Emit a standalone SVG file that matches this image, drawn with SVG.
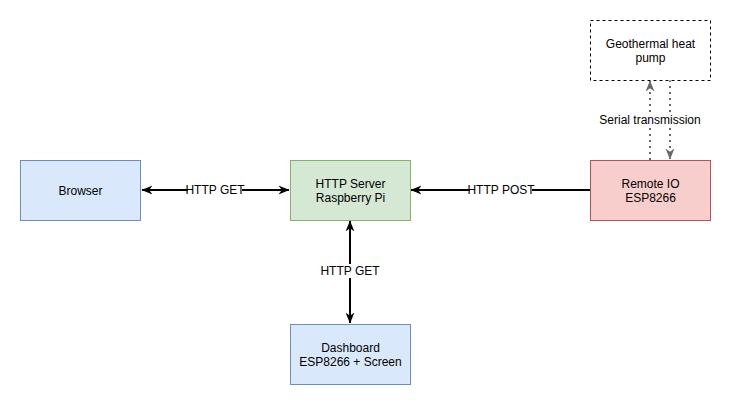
<svg xmlns="http://www.w3.org/2000/svg" width="732" height="405" viewBox="0 0 732 405">
<style>
text{font-family:"Liberation Sans",Arial,sans-serif;font-size:12px;fill:#000;text-anchor:middle}
.blue{fill:#dae8fc;stroke:#6c8ebf;stroke-width:1}
.green{fill:#d5e8d4;stroke:#82b366;stroke-width:1}
.red{fill:#f8cecc;stroke:#b85450;stroke-width:1}
.dash{fill:#fff;stroke:#000;stroke-width:1;stroke-dasharray:3 3}
.conn{fill:none;stroke:#000;stroke-width:2}
.dot{fill:none;stroke:#666;stroke-width:2;stroke-dasharray:2 4}
.lbl{fill:#fff}
</style>
<defs>
<marker id="ah" viewBox="0 0 10 10" refX="9.5" refY="5" markerWidth="5.5" markerHeight="5.5" orient="auto-start-reverse" markerUnits="strokeWidth">
<path d="M0,1 L10,5 L0,9 L3,5 Z" fill="#000"/>
</marker>
<marker id="ahg" viewBox="0 0 10 10" refX="9.5" refY="5" markerWidth="5.5" markerHeight="5.5" orient="auto" markerUnits="strokeWidth">
<path d="M0,1 L10,5 L0,9 L3,5 Z" fill="#666"/>
</marker>
</defs>
<rect width="732" height="405" fill="#fff"/>
<g id="connectors">
<line class="conn" x1="142" y1="190" x2="289" y2="190" marker-start="url(#ah)" marker-end="url(#ah)"/>
<rect class="lbl" x="188" y="183" width="54" height="14"/>
<text x="215" y="194">HTTP GET</text>
<line class="conn" x1="590" y1="190" x2="411" y2="190" marker-end="url(#ah)"/>
<rect class="lbl" x="470" y="183" width="62" height="14"/>
<text x="501" y="194">HTTP POST</text>
<line class="conn" x1="350" y1="221" x2="350" y2="323" marker-start="url(#ah)" marker-end="url(#ah)"/>
<rect class="lbl" x="322" y="264" width="56" height="14"/>
<text x="350" y="275">HTTP GET</text>
<line class="dot" x1="650" y1="160" x2="650" y2="81" marker-end="url(#ahg)"/>
<line class="dot" x1="670" y1="80" x2="670" y2="159" marker-end="url(#ahg)"/>
<rect class="lbl" x="598" y="112" width="106" height="16"/>
<text x="650" y="124">Serial transmission</text>
</g>
<g id="browser">
<rect class="blue" x="20.5" y="160.5" width="120" height="60"/>
<text x="80.5" y="195">Browser</text>
</g>
<g id="server">
<rect class="green" x="290.5" y="160.5" width="120" height="60"/>
<text x="350.5" y="188">HTTP Server</text>
<text x="350.5" y="202">Raspberry Pi</text>
</g>
<g id="remote">
<rect class="red" x="590.5" y="160.5" width="120" height="60"/>
<text x="650.5" y="188">Remote IO</text>
<text x="650.5" y="202">ESP8266</text>
</g>
<g id="dashboard">
<rect class="blue" x="290.5" y="324.5" width="120" height="60"/>
<text x="350.5" y="352">Dashboard</text>
<text x="350.5" y="366">ESP8266 + Screen</text>
</g>
<g id="heatpump">
<rect class="dash" x="590.5" y="20.5" width="120" height="60"/>
<text x="650.5" y="48">Geothermal heat</text>
<text x="650.5" y="62">pump</text>
</g>
</svg>
